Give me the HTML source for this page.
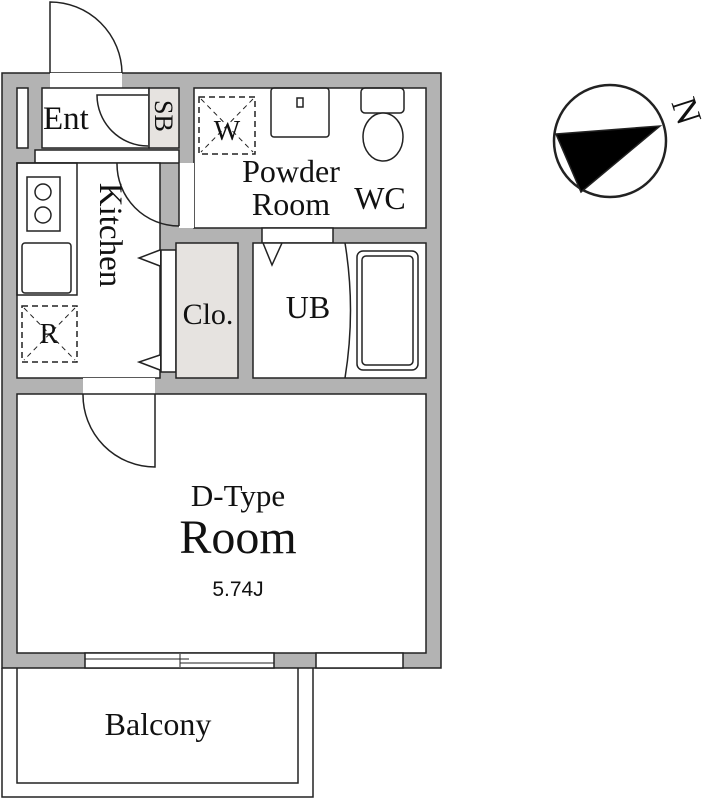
<!DOCTYPE html>
<html><head><style>body{margin:0;background:#fff}svg{display:block}text{font-family:"Liberation Serif",serif;fill:#111}</style></head><body>
<svg width="712" height="800" viewBox="0 0 712 800" xmlns="http://www.w3.org/2000/svg" stroke="#222" stroke-width="1.5" fill="none">
<rect x="2" y="73" width="439" height="595" fill="#b3b3b3" stroke="#222"/>
<rect x="50" y="73" width="72" height="15" fill="#fff" stroke="none"/>
<path d="M50 73 L50 2 A72 72 0 0 1 122 73" />
<rect x="17" y="88" width="11" height="60" fill="#fff"/>
<rect x="42" y="88" width="107" height="60" fill="#fff"/>
<rect x="149" y="88" width="30" height="60" fill="#e6e3e0"/>
<rect x="35" y="150" width="144" height="13" fill="#fff"/>
<path d="M148 95 L97 95 A51 51 0 0 0 148 146" />
<rect x="194" y="88" width="232" height="140" fill="#fff"/>
<rect x="199" y="97" width="56" height="57" stroke-dasharray="6,4"/>
<path d="M201 99 L253 152 M253 99 L201 152" stroke-dasharray="5,4" stroke-width="1"/>
<rect x="271" y="88" width="58" height="49" rx="3"/>
<rect x="297" y="98" width="6" height="9"/>
<rect x="361" y="88" width="43" height="25" rx="4"/>
<ellipse cx="383" cy="137" rx="20" ry="24" fill="#fff"/>
<rect x="17" y="163" width="143" height="215" fill="#fff"/>
<rect x="179" y="163" width="15" height="65" fill="#fff" stroke="none"/>
<path d="M179 226 L179 163 M117 163 A62 62 0 0 0 179 226" />
<rect x="17" y="163" width="60" height="132"/>
<rect x="27" y="177" width="33" height="54"/>
<circle cx="43" cy="192" r="8"/><circle cx="43" cy="215" r="8"/>
<rect x="22" y="243" width="49" height="50" rx="3"/>
<rect x="22" y="306" width="55" height="56" stroke-dasharray="6,4"/>
<path d="M24 308 L75 360 M75 308 L24 360" stroke-dasharray="5,4" stroke-width="1"/>
<rect x="161" y="250" width="15" height="122" fill="#fff"/>
<path d="M160 250 L139 258 L160 266 M160 355 L139 362 L160 370" fill="#fff"/>
<rect x="176" y="243" width="62" height="135" fill="#e6e3e0"/>
<rect x="262" y="228" width="71" height="15" fill="#fff"/>
<rect x="253" y="243" width="173" height="135" fill="#fff"/>
<path d="M263 243 L272 265 L282 243"/>
<path d="M345 243 Q356 310 345 378"/>
<rect x="357" y="251" width="61" height="119" rx="6"/>
<rect x="362" y="256" width="51" height="109" rx="4"/>
<rect x="83" y="378" width="72" height="16" fill="#fff" stroke="none"/>
<rect x="17" y="394" width="409" height="259" fill="#fff"/>
<path d="M155 394 L155 467 A72 72 0 0 1 83 394"/>
<rect x="85" y="653" width="189" height="15" fill="#fff"/>
<path d="M85 659 L180 659 M180 663 L274 663 M180 654 L180 667 M170 659 L189 659" stroke-width="1"/>
<rect x="316" y="653" width="87" height="15" fill="#fff"/>
<path d="M2 668 L2 797 L313 797 L313 668"/>
<path d="M17 668 L17 783 L298 783 L298 668"/>
<circle cx="610" cy="141" r="56" stroke-width="2.5"/>
<polygon points="556,134 660,126 581,192" fill="#000"/>
<text x="683" y="112" font-size="36" transform="rotate(72 683 112)" text-anchor="middle" dominant-baseline="middle" stroke="none">N</text>
<g stroke="none" font-size="32">
<text x="43" y="129" font-size="33">Ent</text>
<text x="155" y="100" font-size="26" transform="rotate(90 155 100)">SB</text>
<text x="227" y="140" text-anchor="middle" font-size="28">W</text>
<text x="291" y="182" text-anchor="middle">Powder</text>
<text x="291" y="215" text-anchor="middle">Room</text>
<text x="380" y="209" text-anchor="middle">WC</text>
<text x="90" y="245" text-anchor="middle" transform="rotate(90 100 245)" font-size="33">Kitchen</text>
<text x="49" y="343" text-anchor="middle" font-size="28">R</text>
<text x="208" y="324" text-anchor="middle" font-size="30">Clo.</text>
<text x="308" y="318" text-anchor="middle">UB</text>
<text x="238" y="506" text-anchor="middle" font-size="31">D-Type</text>
<text x="238" y="553" text-anchor="middle" font-size="48">Room</text>
<text x="238" y="596" text-anchor="middle" font-size="21" style="font-family:'Liberation Sans',sans-serif">5.74J</text>
<text x="158" y="735" text-anchor="middle">Balcony</text>
</g>
</svg>
</body></html>
